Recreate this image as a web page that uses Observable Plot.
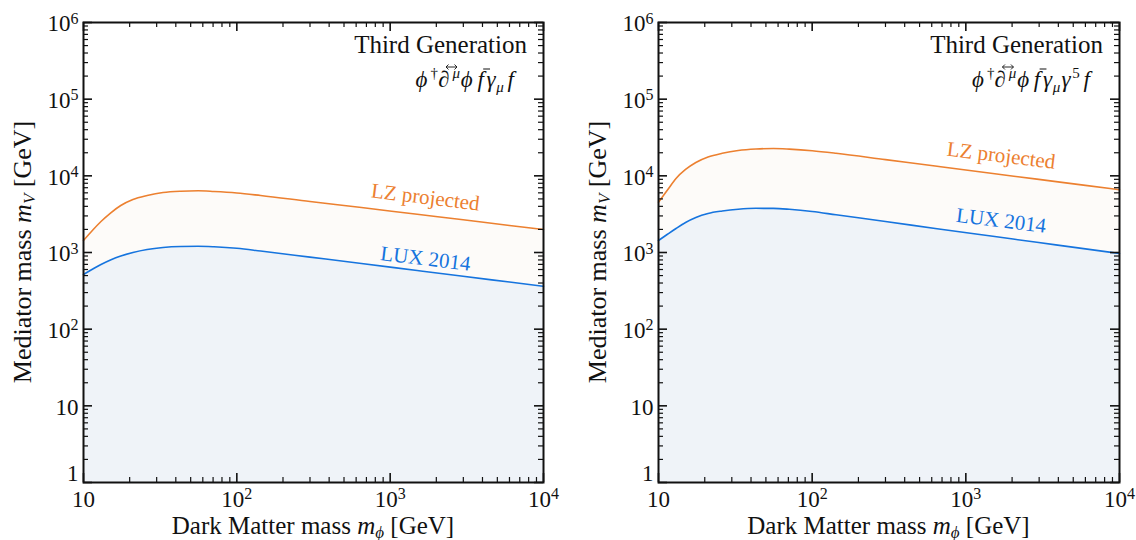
<!DOCTYPE html>
<html>
<head>
<meta charset="utf-8">
<script src="https://cdn.jsdelivr.net/npm/d3@7"></script>
<script src="https://cdn.jsdelivr.net/npm/@observablehq/plot@0.6"></script>
<style>
  body { margin: 0; background: #fff; }
  #charts { display: flex; width: 1136px; height: 540px; }
  #charts svg { display: block; }
</style>
</head>
<body>
<div id="charts"></div>
<script>
// Dark matter masses (GeV) at which the mediator-mass limits are sampled
const darkMatterMass = [10, 11.5, 13, 15, 17.5, 21, 26, 33, 43, 56, 71, 100, 143, 300, 650, 1500, 2900, 6000, 10000];

// Vector coupling  (phi^dag d^mu phi  fbar gamma_mu f)
const vectorLUX = [517, 609, 697, 798, 900, 1000, 1094, 1162, 1197, 1205, 1187, 1135, 1046, 871, 719, 582, 493, 412, 363];
const vectorLZ  = [1434, 1966, 2537, 3273, 4100, 4911, 5535, 6063, 6305, 6380, 6250, 5975, 5535, 4624, 3865, 3150, 2693, 2249, 1996];

// Axial coupling  (phi^dag d^mu phi  fbar gamma_mu gamma^5 f)
const axialLUX = [1434, 1742, 2056, 2462, 2861, 3226, 3477, 3672, 3772, 3760, 3660, 3427, 3104, 2535, 2043, 1626, 1359, 1114, 970];
const axialLZ  = [4529, 6637, 9231, 12100, 14930, 17610, 19680, 21400, 22390, 22720, 22320, 21290, 19740, 16280, 13310, 10720, 9060, 7500, 6580];

// Tick labels: base and exponent
const xTickValues = [10, 100, 1000, 10000];
const xTickBase = ["10", "10", "10", "10"];
const xTickExp  = ["", "2", "3", "4"];
const yTickValues = [1, 10, 100, 1000, 10000, 100000, 1000000];
const yTickBase = ["1", "10", "10", "10", "10", "10", "10"];
const yTickExp  = ["", "", "2", "3", "4", "5", "6"];

const SERIF = '"Liberation Serif", "Times New Roman", serif';
const INK = "#111";
const ORANGE = "#ec8030";
const BLUE = "#1674de";
const BASE_SIZE = 23, EXP_SIZE = 16;

const ctx = document.createElement("canvas").getContext("2d");
function textWidth(t, size, italic) {
  ctx.font = `${italic ? "italic " : ""}${size}px ${SERIF}`;
  return ctx.measureText(t).width;
}

// Minor ticks for each decade
function minorTicks(lo, hi) {
  const out = [];
  for (let d = lo; d < hi; d *= 10) for (let k = 2; k <= 9; k++) out.push(k * d);
  return out;
}
const xMinor = minorTicks(10, 10000);
const yMinor = minorTicks(1, 1000000);

// Operator typeset as a row of glyph pieces
const vectorOperator = [
  {t: "ϕ", it: true, gap: 1}, {t: "†", sup: true, gap: 2}, {t: "∂", it: true, arrow: true, gap: 1}, {t: "μ", it: true, sup: true, gap: 3},
  {t: "ϕ", it: true, gap: 2}, {t: "f", it: true, bar: true, gap: 4}, {t: "γ", it: true, gap: 0}, {t: "μ", it: true, sub: true, gap: 3},
  {t: "f", it: true}
];
const axialOperator = [
  {t: "ϕ", it: true, gap: 1}, {t: "†", sup: true, gap: 2}, {t: "∂", it: true, arrow: true, gap: 1}, {t: "μ", it: true, sup: true, gap: 3},
  {t: "ϕ", it: true, gap: 2}, {t: "f", it: true, bar: true, gap: 4}, {t: "γ", it: true, gap: 0}, {t: "μ", it: true, sub: true, gap: 2},
  {t: "γ", it: true, gap: 1}, {t: "5", sup: true, gap: 3}, {t: "f", it: true}
];

function headerMark(title, pieces) {
  return (index, scales, values, dims) => {
    const right = dims.width - dims.marginRight;
    const g = d3.create("svg:g").attr("font-family", SERIF).attr("fill", INK);
    g.append("text")
      .attr("x", right - 16).attr("y", dims.marginTop + 31)
      .attr("text-anchor", "end").attr("font-size", 25).text(title);
    const laid = pieces.map(p => {
      const s = (p.sup || p.sub) ? 15 : 23;
      return {...p, s, w: textWidth(p.t, s, p.it)};
    });
    const total = d3.sum(laid, p => p.w + (p.gap || 0));
    const base = dims.marginTop + 65;
    const row = g.append("text").attr("y", base).attr("font-size", 23);
    let x = right - 26 - total;
    for (const p of laid) {
      const y = base + (p.sup ? -9 : p.sub ? 5 : 0);
      row.append("tspan").attr("x", x).attr("y", y).attr("font-size", p.s)
        .attr("font-style", p.it ? "italic" : null).text(p.t);
      if (p.arrow) {
        // two-headed accent arrow over the derivative
        const cx = x + p.w / 2 + 2, ay = base - 20, hw = 5.5;
        g.append("path")
          .attr("d", `M${cx - hw},${ay}H${cx + hw}M${cx - hw + 2.5},${ay - 2.5}L${cx - hw},${ay}L${cx - hw + 2.5},${ay + 2.5}M${cx + hw - 2.5},${ay - 2.5}L${cx + hw},${ay}L${cx + hw - 2.5},${ay + 2.5}`)
          .attr("fill", "none").attr("stroke", INK).attr("stroke-width", 0.9);
      }
      if (p.bar) {
        g.append("line").attr("x1", x + p.w * 0.4).attr("x2", x + p.w + 3)
          .attr("y1", base - 18).attr("y2", base - 18)
          .attr("stroke", INK).attr("stroke-width", 1);
      }
      x += p.w + (p.gap || 0);
    }
    return g.node();
  };
}

function axisTitles() {
  return (index, scales, values, dims) => {
    const {width, height, marginLeft, marginRight, marginTop, marginBottom} = dims;
    const g = d3.create("svg:g").attr("font-family", SERIF).attr("fill", INK);
    const xt = g.append("text").attr("font-size", 25)
      .attr("x", marginLeft + (width - marginLeft - marginRight) / 2)
      .attr("y", height - 6).attr("text-anchor", "middle");
    xt.append("tspan").text("Dark Matter mass ");
    xt.append("tspan").attr("font-style", "italic").text("m");
    xt.append("tspan").attr("font-style", "italic").attr("font-size", 17).attr("dy", 4).text("ϕ");
    xt.append("tspan").attr("dy", -4).text(" [GeV]");
    const yt = g.append("text").attr("font-size", 26)
      .attr("transform", `translate(${marginLeft - 52},${marginTop + (height - marginTop - marginBottom) / 2}) rotate(-90)`)
      .attr("text-anchor", "middle");
    yt.append("tspan").text("Mediator mass ");
    yt.append("tspan").attr("font-style", "italic").text("m");
    yt.append("tspan").attr("font-style", "italic").attr("font-size", 17).attr("dy", 4).text("V");
    yt.append("tspan").attr("dy", -4).text(" [GeV]");
    return g.node();
  };
}

function panel({lux, lz, title, operator, marginLeft, marginRight, lzLabel, luxLabel}) {
  const width = 568, height = 540, marginTop = 22, marginBottom = 58;
  const plotW = width - marginLeft - marginRight;
  const plotH = height - marginTop - marginBottom;
  const rows = darkMatterMass.map((m, i) => ({m, lux: lux[i], lz: lz[i]}));
  const curve = "monotone-x";

  const wBase = textWidth("10", BASE_SIZE, false);
  const wExp = textWidth("2", EXP_SIZE, false);
  const xRows = xTickValues.map((v, i) => ({v, base: xTickBase[i], exp: xTickExp[i]}));
  const yRows = yTickValues.map((v, i) => ({v, base: yTickBase[i], exp: yTickExp[i]}));

  const major = {stroke: INK, strokeWidth: 1.6};
  const minor = {stroke: INK, strokeWidth: 1.2};

  return Plot.plot({
    width, height, marginTop, marginBottom, marginLeft, marginRight,
    style: {fontFamily: SERIF, background: "#fff", color: INK, overflow: "visible"},
    x: {type: "log", domain: [10, 10000], axis: null},
    y: {type: "log", domain: [1, 1000000], axis: null},
    marks: [
      Plot.areaY(rows, {x: "m", y1: 1, y2: "lux", fill: "#eff3f8", curve}),
      Plot.areaY(rows, {x: "m", y1: "lux", y2: "lz", fill: "#fdfbf9", curve}),
      Plot.line(rows, {x: "m", y: "lux", stroke: BLUE, strokeWidth: 1.6, curve}),
      Plot.line(rows, {x: "m", y: "lz", stroke: ORANGE, strokeWidth: 1.6, curve}),

      // inward ticks on all four sides
      Plot.ruleX(xTickValues, {x: d => d, insetTop: plotH - 9, ...major}),
      Plot.ruleX(xTickValues, {x: d => d, insetBottom: plotH - 9, ...major}),
      Plot.ruleX(xMinor, {x: d => d, insetTop: plotH - 5, ...minor}),
      Plot.ruleX(xMinor, {x: d => d, insetBottom: plotH - 5, ...minor}),
      Plot.ruleY(yTickValues, {y: d => d, insetRight: plotW - 9, ...major}),
      Plot.ruleY(yTickValues, {y: d => d, insetLeft: plotW - 9, ...major}),
      Plot.ruleY(yMinor, {y: d => d, insetRight: plotW - 5, ...minor}),
      Plot.ruleY(yMinor, {y: d => d, insetLeft: plotW - 5, ...minor}),
      Plot.frame({stroke: INK, strokeWidth: 2}),

      // x tick labels
      Plot.text(xRows.filter(d => !d.exp), {x: "v", text: "base", frameAnchor: "bottom", lineAnchor: "top", dy: 8, fontSize: BASE_SIZE}),
      Plot.text(xRows.filter(d => d.exp), {x: "v", text: "base", frameAnchor: "bottom", lineAnchor: "top", textAnchor: "end", dx: (wBase - wExp) / 2, dy: 8, fontSize: BASE_SIZE}),
      Plot.text(xRows.filter(d => d.exp), {x: "v", text: "exp", frameAnchor: "bottom", lineAnchor: "top", textAnchor: "start", dx: (wBase - wExp) / 2, dy: 5.5, fontSize: EXP_SIZE}),

      // y tick labels
      Plot.text(yRows.filter(d => !d.exp && d.v > 1), {y: "v", text: "base", frameAnchor: "left", textAnchor: "end", dx: -5, dy: 1.5, fontSize: BASE_SIZE}),
      Plot.text(yRows.filter(d => d.v === 1), {y: "v", text: "base", frameAnchor: "left", textAnchor: "end", dx: -5, dy: -9, fontSize: BASE_SIZE}),
      Plot.text(yRows.filter(d => d.exp), {y: "v", text: "base", frameAnchor: "left", textAnchor: "end", dx: -5 - wExp, dy: 1.5, fontSize: BASE_SIZE}),
      Plot.text(yRows.filter(d => d.exp), {y: "v", text: "exp", frameAnchor: "left", textAnchor: "end", dx: -5, dy: -4, fontSize: EXP_SIZE}),

      // curve labels
      Plot.text([lzLabel], {x: "m", y: "v", text: () => "LZ projected", rotate: 7, fill: ORANGE, fontSize: 21}),
      Plot.text([luxLabel], {x: "m", y: "v", text: () => "LUX 2014", rotate: 7, fill: BLUE, fontSize: 21}),

      axisTitles(),
      headerMark(title, operator)
    ]
  });
}

const charts = document.getElementById("charts");
charts.append(
  panel({
    lux: vectorLUX, lz: vectorLZ, title: "Third Generation", operator: vectorOperator,
    marginLeft: 83, marginRight: 25,
    lzLabel: {m: 1700, v: 5250}, luxLabel: {m: 1700, v: 830}
  }),
  panel({
    lux: axialLUX, lz: axialLZ, title: "Third Generation", operator: axialOperator,
    marginLeft: 90, marginRight: 17,
    lzLabel: {m: 1700, v: 18400}, luxLabel: {m: 1700, v: 2610}
  })
);
</script>
</body>
</html>
